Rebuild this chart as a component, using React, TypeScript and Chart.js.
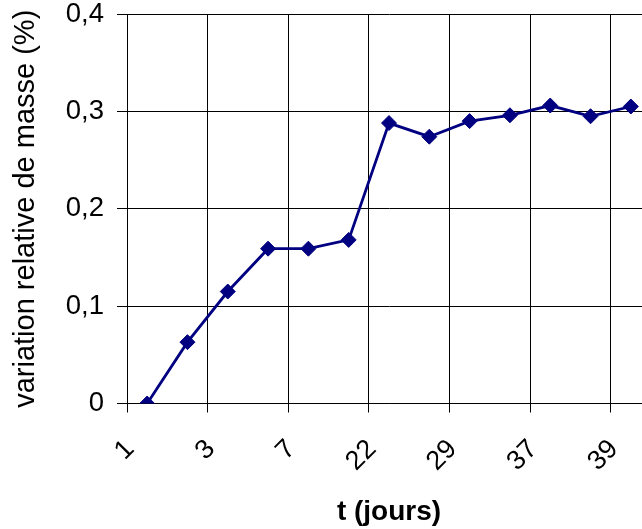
import React, { useEffect, useRef } from "react";
import { Chart, registerables } from "chart.js";

Chart.register(...registerables);

// Visible tick labels (one every two samples)
const tickLabels = ["1", "3", "7", "22", "29", "37", "39"];
// Relative mass variation (%) for each of the 13 samples
const massVariation = [
  0, 0.063, 0.115, 0.159, 0.159, 0.168, 0.288, 0.274, 0.29, 0.296, 0.306, 0.295, 0.305,
];
const yTicks = [0, 0.1, 0.2, 0.3, 0.4];
const yTitle = "variation relative de masse (%)";
const xTitle = "t (jours)";

const FONT = '"Liberation Sans", Arial, sans-serif';

export default function App() {
  const ref = useRef<HTMLCanvasElement | null>(null);

  useEffect(() => {
    if (!ref.current) return;
    const categories = massVariation.map((_, i) =>
      i % 2 === 0 ? tickLabels[i / 2] ?? "" : ""
    );
    const gridColor = (ctx: any) =>
      typeof ctx.index === "number" && ctx.index % 2 === 0 ? "#000" : "rgba(0,0,0,0)";

    const chart = new Chart(ref.current, {
      type: "line",
      data: {
        labels: categories,
        datasets: [
          {
            data: massVariation,
            borderColor: "#000080",
            backgroundColor: "#000080",
            borderWidth: 2.8,
            pointStyle: "rectRot",
            pointRadius: 7.5,
            pointBorderWidth: 1,
            pointBorderColor: "#000080",
            pointBackgroundColor: "#000080",
            tension: 0,
          },
        ],
      },
      options: {
        animation: false,
        responsive: false,
        devicePixelRatio: 1,
        layout: { padding: { top: 14, right: 9, left: 0, bottom: 0 } },
        plugins: { legend: { display: false }, tooltip: { enabled: false } },
        scales: {
          x: {
            type: "category",
            offset: true,
            grid: {
              offset: true,
              color: gridColor,
              tickColor: gridColor,
              tickLength: 9,
              lineWidth: 1,
            },
            border: { display: true, color: "#000", width: 1 },
            ticks: {
              autoSkip: false,
              minRotation: 45,
              maxRotation: 45,
              labelOffset: -17,
              padding: 21,
              color: "#000",
              font: { family: FONT, size: 27 },
            },
            title: {
              display: true,
              text: xTitle,
              color: "#000",
              font: { family: FONT, size: 28, weight: "bold" },
              padding: { top: 0, bottom: 0 },
            },
            afterFit: (scale: any) => {
              scale.height = 125.5;
              scale.paddingLeft = 0;
              scale.paddingRight = 0;
            },
          },
          y: {
            min: 0,
            max: 0.4,
            afterBuildTicks: (scale: any) => {
              scale.ticks = yTicks.map((v) => ({ value: v }));
            },
            grid: {
              color: "#000",
              tickColor: "#000",
              tickLength: 10,
              lineWidth: 1,
            },
            border: { display: true, color: "#000", width: 1 },
            ticks: {
              padding: 13,
              color: "#000",
              font: { family: FONT, size: 27.5 },
              callback: (v: any) =>
                Number(v) === 0 ? "0" : Number(v).toFixed(1).replace(".", ","),
            },
            title: {
              display: true,
              text: yTitle,
              color: "#000",
              font: { family: FONT, size: 29 },
              padding: { top: 9, bottom: 0 },
            },
            afterFit: (scale: any) => {
              scale.width = 127;
              scale.paddingTop = 0;
              scale.paddingBottom = 0;
            },
          },
        },
      },
    });
    return () => chart.destroy();
  }, []);

  return (
    <div
      style={{
        position: "fixed",
        left: 0,
        top: 0,
        width: 642,
        height: 529,
        overflow: "hidden",
        background: "#fff",
      }}
    >
      <canvas ref={ref} width={660} height={529} style={{ display: "block" }} />
    </div>
  );
}
